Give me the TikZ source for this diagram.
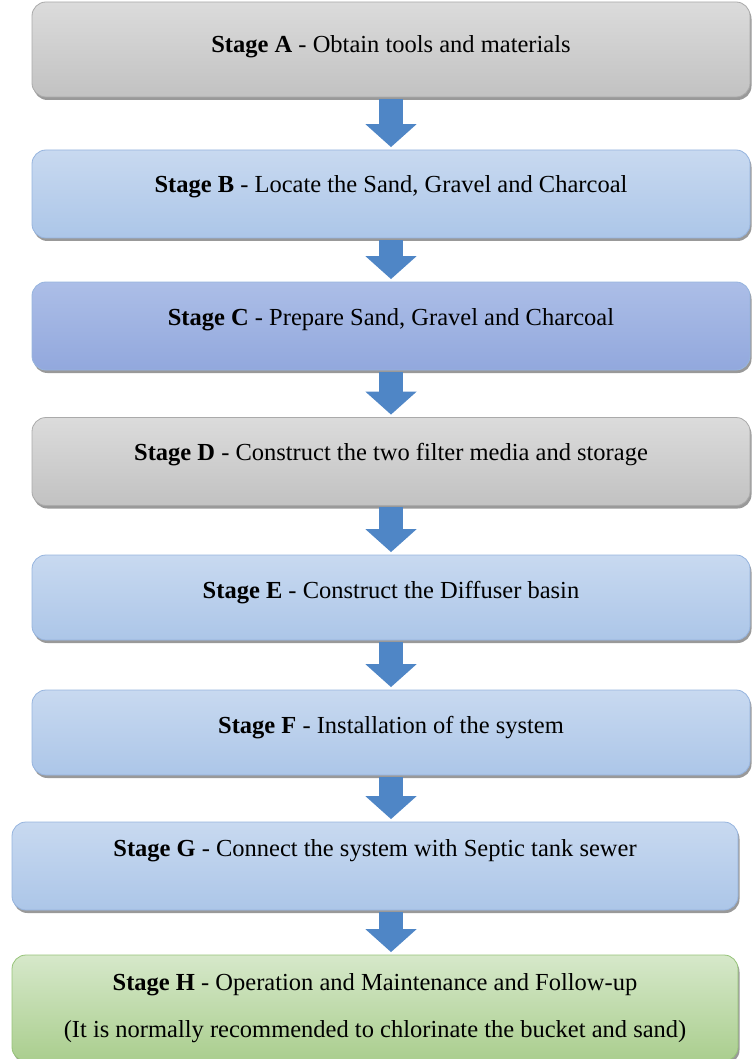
\documentclass[tikz,border=0pt]{standalone}
\usepackage{fontspec}
\setmainfont{Liberation Serif}
\usetikzlibrary{arrows.meta,shadows}

\definecolor{arrowblue}{RGB}{79,134,198}
\definecolor{grayedge}{RGB}{170,170,170}
\definecolor{blueedge}{RGB}{150,180,222}
\definecolor{greenedge}{RGB}{150,195,120}

\tikzset{
    stage/.style={rounded corners=14pt, minimum width=718pt, minimum height=88pt,
        inner sep=0pt, line width=0.8pt,
        font=\fontsize{24.5}{29}\selectfont,
        drop shadow={shadow xshift=1.5pt, shadow yshift=-3pt, fill=black, opacity=0.4}},
    oneline/.style={text height=17pt, text depth=#1},
    oneline/.default=19pt,
    graybox/.style={stage, draw=grayedge, top color=black!14, middle color=black!5, bottom color=black!24},
    bluebox/.style={stage, draw=blueedge, top color={rgb,255:red,200;green,217;blue,240}, middle color={rgb,255:red,224;green,234;blue,247}, bottom color={rgb,255:red,172;green,198;blue,232}},
    violetbox/.style={stage, draw=blueedge, top color={rgb,255:red,172;green,190;blue,231}, middle color={rgb,255:red,212;green,223;blue,243}, bottom color={rgb,255:red,146;green,168;blue,221}},
    greenbox/.style={stage, draw=greenedge, top color={rgb,255:red,214;green,232;blue,202}, middle color={rgb,255:red,226;green,238;blue,218}, bottom color={rgb,255:red,170;green,206;blue,142}},
    flow/.style={draw=arrowblue, line width=24pt, shorten <=1.5pt, shorten >=2.5pt,
        -{Triangle[width=50pt,length=23pt]}}
}

\begin{document}
\begin{tikzpicture}[x=1pt,y=1pt]
    \useasboundingbox (0,0) rectangle (752,-1059);

    % the eight stages
    \node[graybox, oneline=11pt, minimum height=95pt] (A) at (391,-49.5) {\textbf{Stage A} - Obtain tools and materials};
    \node[bluebox, oneline] (B) at (391,-194) {\textbf{Stage B} - Locate the Sand, Gravel and Charcoal};
    \node[violetbox, oneline] (C) at (391,-326) {\textbf{Stage C} - Prepare Sand, Gravel and Charcoal};
    \node[graybox, oneline] (D) at (391,-461.5) {\textbf{Stage D} - Construct the two filter media and storage};
    \node[bluebox, oneline=15pt, minimum height=85pt] (E) at (391,-597.5) {\textbf{Stage E} - Construct the Diffuser basin};
    \node[bluebox, oneline=15pt, minimum height=85pt] (F) at (391,-732.5) {\textbf{Stage F} - Installation of the system};
    \node[bluebox, oneline=37pt, minimum width=726pt] (G) at (375,-866) {\textbf{Stage G} - Connect the system with Septic tank sewer};
    \node[greenbox, minimum width=726pt, minimum height=106pt, align=center] (H) at (375,-1008)
        {\textbf{Stage H} - Operation and Maintenance and Follow-up\\[18pt]
         (It is normally recommended to chlorinate the bucket and sand)};

    % block arrows
    \draw[flow] (A) -- (B);
    \draw[flow] (B) -- (C);
    \draw[flow] (C) -- (D);
    \draw[flow] (D) -- (E);
    \draw[flow] (E) -- (F);
    \draw[flow] (F.south) -- (F.south |- G.north);
    \draw[flow] (G.south -| F.south) -- (H.north -| F.south);
\end{tikzpicture}
\end{document}
